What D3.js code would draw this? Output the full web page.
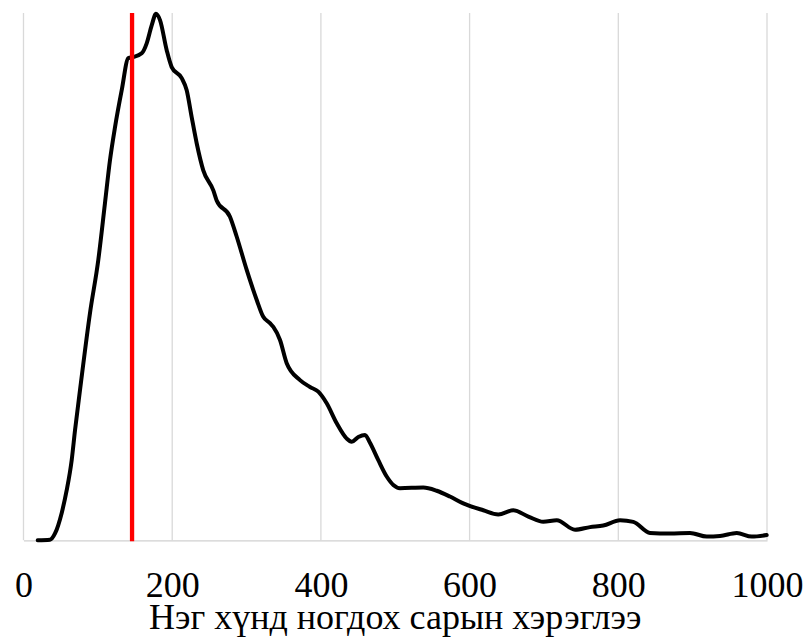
<!DOCTYPE html>
<html>
<head>
<meta charset="utf-8">
<script src="https://cdn.jsdelivr.net/npm/d3@7/dist/d3.min.js"></script>
<style>
  html, body { margin: 0; padding: 0; background: #fff; }
  svg { display: block; }
</style>
</head>
<body>
<div id="chart"></div>
<script>
// Monthly consumption per person (x) and estimated density (relative units, peak ≈ 100)
const xValues = [19.1, 35.6, 42.4, 51.4, 58.1, 64.8, 69.3, 76.0, 89.4, 100.6, 109.6, 116.3, 123.1, 132.1, 141.0, 147.7, 159.0, 165.7, 172.4, 178.2, 183.6, 192.6, 199.3, 212.8, 219.5, 226.2, 233.0, 241.8, 255.3, 259.8, 277.7, 286.8, 300.2, 313.7, 322.5, 331.5, 336.0, 345.0, 354.0, 371.9, 385.3, 396.5, 407.8, 421.3, 434.7, 441.4, 450.3, 459.3, 466.0, 477.2, 488.5, 497.4, 506.4, 537.7, 555.7, 573.6, 591.5, 618.4, 638.6, 658.8, 679.0, 699.1, 717.2, 741.8, 761.9, 779.8, 802.3, 820.2, 842.6, 869.5, 896.4, 918.9, 936.8, 959.3, 979.4, 999.6];
const densityValues = [0, 0.1, 1.3, 5.2, 9.5, 15.2, 20.9, 28.5, 43.1, 53.2, 64.0, 72.1, 78.4, 85.4, 91.5, 91.7, 92.4, 94.3, 97.7, 99.9, 98.7, 93.0, 89.8, 87.7, 85.4, 80.3, 75.3, 70.2, 66.4, 64.5, 61.4, 57.6, 51.3, 45.6, 42.4, 41.2, 40.5, 38.0, 33.6, 30.4, 29.1, 28.2, 26.0, 22.2, 19.3, 18.7, 19.6, 20.0, 18.5, 15.2, 12.1, 10.5, 9.9, 10.0, 9.4, 8.3, 7.0, 5.7, 4.9, 5.7, 4.5, 3.5, 3.8, 2.0, 2.5, 2.8, 3.8, 3.5, 1.4, 1.3, 1.4, 0.7, 0.8, 1.4, 0.7, 1.0];
const xTicks = [0, 200, 400, 600, 800, 1000];
const markerValue = [146];
const xTitle = "Нэг хүнд ногдох сарын хэрэглээ";

const W = 806, H = 637;
const x0 = 23.5, x1 = 767, yBase = 540.3, yTop = 13;
const serif = "Liberation Serif";

const svg = d3.select("#chart").append("svg")
  .attr("width", W).attr("height", H);

const x = d3.scaleLinear().domain([0, 1000]).range([x0, x1]);
const y = d3.scaleLinear().domain([0, 100]).range([yBase, yTop + 0.3]);

// vertical gridlines
svg.append("g").selectAll("line").data(xTicks).join("line")
  .attr("x1", d => x(d)).attr("x2", d => x(d))
  .attr("y1", yTop).attr("y2", yBase)
  .attr("stroke", "#d9d9d9").attr("stroke-width", 1.3);

// baseline axis
const axis = d3.axisBottom(x).tickValues(xTicks).tickSize(0)
  .tickFormat(d3.format("d"));
const gAxis = svg.append("g").attr("transform", `translate(0,${yBase})`).call(axis);
gAxis.attr("font-family", serif).attr("font-size", 36);
gAxis.select(".domain").attr("stroke", "#d0d0d0").attr("stroke-width", 1.3);
gAxis.selectAll("text")
  .attr("fill", "#000")
  .attr("dy", null).attr("y", 56.5);

// density curve
const data = xValues.map((v, i) => ({ x: v, y: densityValues[i] }));
const line = d3.line().x(d => x(d.x)).y(d => y(d.y)).curve(d3.curveMonotoneX);
svg.append("path").datum(data)
  .attr("d", line)
  .attr("fill", "none").attr("stroke", "#000").attr("stroke-width", 4)
  .attr("stroke-linejoin", "round").attr("stroke-linecap", "round");

// red marker line
svg.append("g").selectAll("line").data(markerValue).join("line")
  .attr("x1", d => x(d)).attr("x2", d => x(d))
  .attr("y1", yTop).attr("y2", yBase + 1)
  .attr("stroke", "#ff0000").attr("stroke-width", 4.3);

// axis title
svg.append("text")
  .attr("x", (x0 + x1) / 2).attr("y", 629)
  .attr("text-anchor", "middle")
  .attr("font-family", serif)
  .attr("font-size", 36).attr("fill", "#000")
  .text(xTitle);
</script>
</body>
</html>
